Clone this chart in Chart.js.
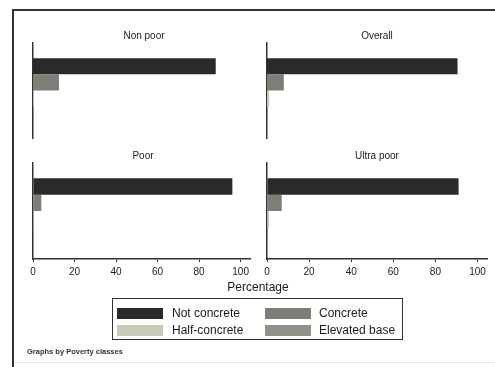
<!DOCTYPE html>
<html><head><meta charset="utf-8">
<script src="https://cdn.jsdelivr.net/npm/chart.js@4"></script>
<style>
body{margin:0;background:#fff;width:495px;height:367px;overflow:hidden;position:relative;font-family:"Liberation Sans",Arial,sans-serif;color:#1a1a1a}
.abs{position:absolute}
canvas.abs{display:block}
.title{position:absolute;font-size:10px;transform:translateX(-50%);white-space:nowrap;line-height:10px}
#legend{position:absolute;left:112px;top:298px;width:289px;height:40px;border:1.5px solid #333}
.sw{position:absolute;width:46px;height:11px}
.lt{position:absolute;font-size:12px;line-height:12px;white-space:nowrap}
</style></head>
<body>
<div class="abs" style="left:12px;top:9px;width:2px;height:358px;background:#333"></div>
<div class="abs" style="left:12px;top:9px;width:483px;height:2px;background:#333"></div>
<div class="abs" style="left:14px;top:362px;width:481px;height:1px;background:#e4e4e4"></div>

<canvas id="c0" class="abs" style="left:20px;top:20px" width="235" height="130"></canvas>
<canvas id="c1" class="abs" style="left:255px;top:20px" width="240" height="130"></canvas>
<canvas id="c2" class="abs" style="left:20px;top:150px" width="235" height="135"></canvas>
<canvas id="c3" class="abs" style="left:255px;top:150px" width="240" height="135"></canvas>

<div id="t0" class="title" style="left:144px;top:31px"></div>
<div id="t1" class="title" style="left:377px;top:31px"></div>
<div id="t2" class="title" style="left:143px;top:151px"></div>
<div id="t3" class="title" style="left:377px;top:151px"></div>

<div id="xtitle" class="abs" style="left:258px;top:281px;transform:translateX(-50%);font-size:12px;line-height:12px;white-space:nowrap"></div>
<div id="legend"></div>
<div id="note" class="abs" style="left:27px;top:348px;font-size:7.5px;line-height:8px;white-space:nowrap;font-weight:bold;color:#333"></div>

<script>
const panels = ['Non poor', 'Overall', 'Poor', 'Ultra poor'];
const seriesNames = ['Not concrete', 'Concrete', 'Half-concrete', 'Elevated base'];
const notConcrete = [88, 90.5, 96, 91];
const concrete = [12.5, 8, 4, 7];
const halfConcrete = [0.4, 1, 0.3, 1];
const elevatedBase = [0.2, 0.5, 0.2, 0.5];
const xTicks = [0, 20, 40, 60, 80, 100];
const xTitle = 'Percentage';
const note = 'Graphs by Poverty classes';

const seriesValues = [notConcrete, concrete, halfConcrete, elevatedBase];
const seriesColors = ['#2a2a2a', '#7c7f76', '#c8cab8', '#8e9187'];

panels.forEach((p, i) => { document.getElementById('t' + i).textContent = p; });
document.getElementById('xtitle').textContent = xTitle;
document.getElementById('note').textContent = note;

const leg = document.getElementById('legend');
seriesNames.forEach((name, k) => {
  const col = k % 2, row = Math.floor(k / 2);
  const sw = document.createElement('div');
  sw.className = 'sw';
  sw.style.left = (col ? 152 : 4) + 'px';
  sw.style.top = (row ? 26 : 9) + 'px';
  sw.style.background = seriesColors[k];
  leg.appendChild(sw);
  const t = document.createElement('div');
  t.className = 'lt';
  t.style.left = (col ? 206 : 59) + 'px';
  t.style.top = (row ? 25 : 8) + 'px';
  t.textContent = name;
  leg.appendChild(t);
});

function makeChart(i, showX, pad) {
  new Chart(document.getElementById('c' + i), {
    type: 'bar',
    data: {
      labels: [panels[i]],
      datasets: seriesNames.map((n, k) => ({
        label: n,
        data: [seriesValues[k][i]],
        backgroundColor: seriesColors[k],
        borderWidth: 0,
        categoryPercentage: 0.68,
        barPercentage: 1
      }))
    },
    options: {
      indexAxis: 'y',
      responsive: false,
      animation: false,
      layout: { padding: pad },
      plugins: { legend: { display: false }, tooltip: { enabled: false }, title: { display: false } },
      scales: {
        x: {
          type: 'linear', min: 0, max: 104.5,
          display: showX,
          afterBuildTicks: s => { s.ticks = xTicks.map(v => ({ value: v })); },
          afterFit: s => { s.height = showX ? 22 : 0; s.paddingLeft = 0; s.paddingRight = 0; },
          grid: { display: true, drawOnChartArea: false, drawTicks: true, tickLength: 3, color: '#333', lineWidth: 1 },
          border: { display: true, color: '#333', width: 1.5 },
          ticks: { padding: 4, color: '#1a1a1a', font: { family: '"Liberation Sans", Arial, sans-serif', size: 10 }, maxRotation: 0, autoSkip: false }
        },
        y: {
          type: 'category',
          afterFit: s => { s.width = 0; s.paddingTop = 0; s.paddingBottom = 0; },
          grid: { display: false },
          border: { display: true, color: '#333', width: 1.5 },
          ticks: { display: false }
        }
      }
    }
  });
}

// top row: plot area y 43..138 ; bottom row: 163..259
makeChart(0, false, { left: 13, right: 5, top: 23, bottom: 12 });
makeChart(1, false, { left: 12, right: 8, top: 23, bottom: 12 });
makeChart(2, true, { left: 13, right: 5, top: 13, bottom: 4 });
makeChart(3, true, { left: 12, right: 8, top: 13, bottom: 4 });
</script>
</body></html>
